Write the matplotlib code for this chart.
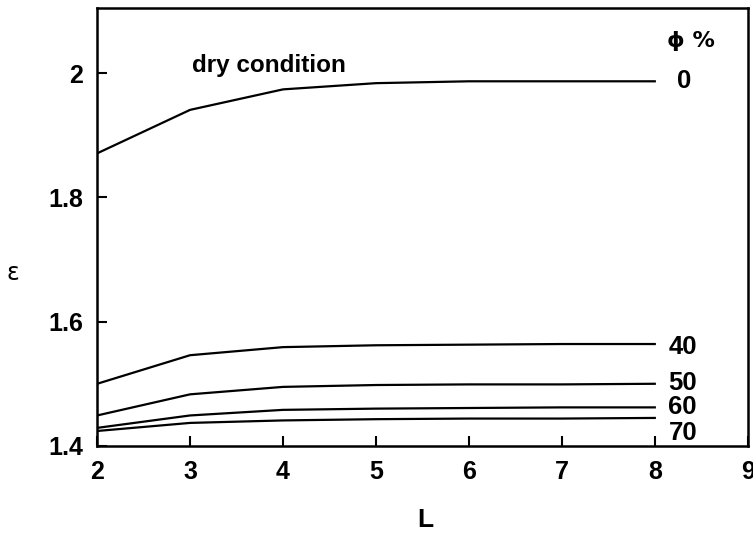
import matplotlib
matplotlib.use("Agg")
import matplotlib.pyplot as plt

L = [2, 3, 4, 5, 6, 7, 8]
phi_labels = ["0", "40", "50", "60", "70"]
eps_0 = [1.871, 1.941, 1.974, 1.984, 1.987, 1.987, 1.987]
eps_40 = [1.500, 1.546, 1.559, 1.562, 1.563, 1.564, 1.564]
eps_50 = [1.449, 1.483, 1.495, 1.498, 1.499, 1.499, 1.500]
eps_60 = [1.429, 1.449, 1.458, 1.460, 1.461, 1.462, 1.462]
eps_70 = [1.424, 1.437, 1.441, 1.443, 1.444, 1.444, 1.445]
series = [eps_0, eps_40, eps_50, eps_60, eps_70]
label_x = [8.24, 8.15, 8.14, 8.14, 8.15]
label_y = [1.988, 1.560, 1.501, 1.462, 1.421]

plt.rcParams['font.family'] = ['Liberation Sans', 'DejaVu Sans']
fig = plt.figure(figsize=(7.53, 5.34), dpi=100)
ax = fig.add_axes([0.129, 0.165, 0.864, 0.82])

for s in series:
    ax.plot(L, s, color='black', lw=1.6)

for lab, x, y in zip(phi_labels, label_x, label_y):
    ax.text(x, y, lab, fontsize=18.5, fontweight='bold', va='center', ha='left')

ax.text(8.13, 2.052, "ϕ %", fontsize=16, fontweight='bold', va='center', ha='left',
        family=['DejaVu Sans'])
ax.text(3.02, 2.012, "dry condition", fontsize=17.5, fontweight='bold', va='center', ha='left')

ax.set_xlim(2, 9)
ax.set_ylim(1.4, 2.105)
ax.set_xticks([2, 3, 4, 5, 6, 7, 8, 9])
ax.set_yticks([1.4, 1.6, 1.8, 2.0])
ax.set_yticklabels(["1.4", "1.6", "1.8", "2"])
ax.tick_params(direction='in', length=7, width=1.5, labelsize=18, pad=10)
for lbl in ax.get_xticklabels() + ax.get_yticklabels():
    lbl.set_fontweight('bold')
for sp in ax.spines.values():
    sp.set_linewidth(1.8)

ax.set_xlabel("L", fontsize=19, fontweight='bold', va='center')
ax.xaxis.set_label_coords(0.504, -0.169)
ax.set_ylabel("ε", fontsize=17, rotation=0, va='center', family=['DejaVu Sans'])
ax.yaxis.set_label_coords(-0.13, 0.395)

fig.savefig("out.png", dpi=100)
